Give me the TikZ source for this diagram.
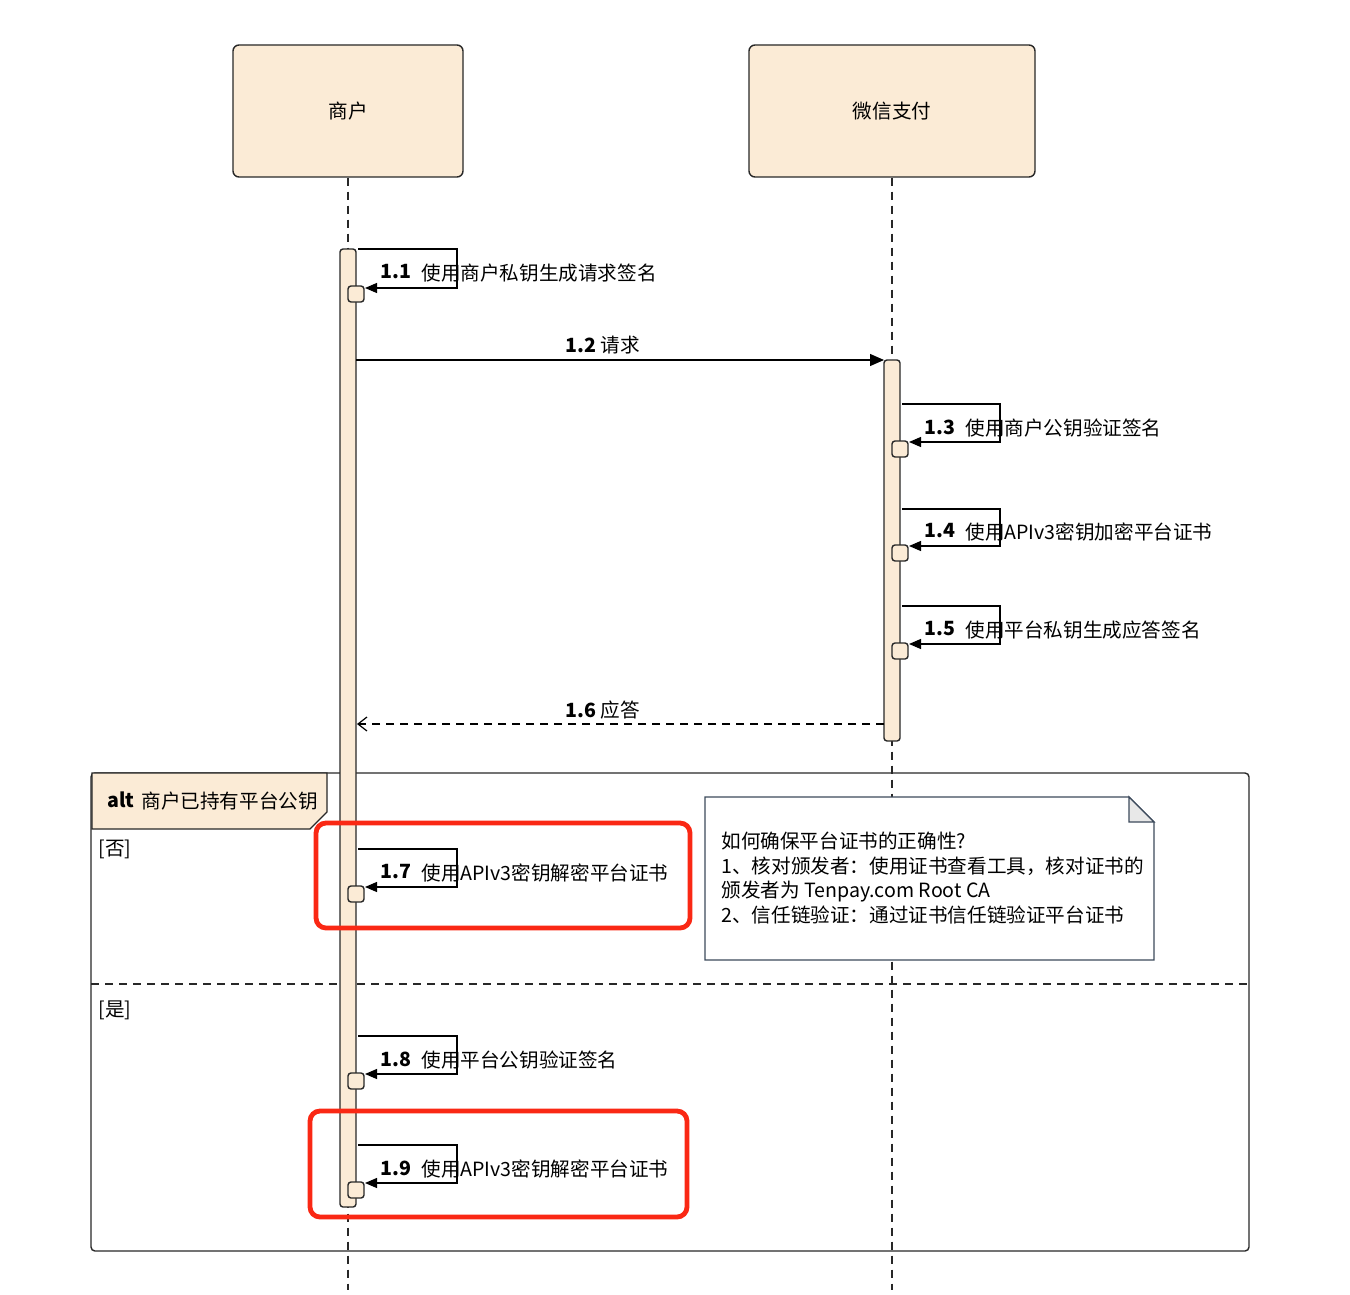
\documentclass[tikz,border=0pt]{standalone}
\usepackage{fontspec}
\setmainfont{Noto Sans CJK SC}
\usetikzlibrary{arrows.meta}
\definecolor{beige}{RGB}{251,235,214}
\definecolor{edge}{RGB}{40,40,40}
\definecolor{notec}{RGB}{60,74,92}
\definecolor{foldc}{RGB}{232,232,232}
\definecolor{redc}{RGB}{250,40,20}
\tikzset{
  actor/.style={draw=edge,fill=beige,line width=0.7pt,rounded corners=3pt,font=\fontsize{9.8}{12}\selectfont,inner sep=0pt},
  bar/.style={draw=edge,fill=beige,line width=0.7pt,rounded corners=1.5pt,minimum width=8pt,inner sep=0pt},
  sq/.style={draw=edge,fill=beige,line width=0.7pt,rounded corners=1.5pt,minimum width=8pt,minimum height=8pt,inner sep=0pt},
  life/.style={draw=edge,line width=0.6pt,dash pattern=on 4pt off 3pt},
  selfmsg/.style={draw=black,line width=0.6pt,-{Triangle[length=6pt,width=5pt]}},
  msg/.style={draw=black,line width=0.6pt,-{Triangle[length=7pt,width=6pt]}},
  ret/.style={draw=black,line width=0.6pt,dash pattern=on 4pt off 3pt,-{Straight Barb[length=4.5pt,width=7pt]}},
  num/.style={font=\fontsize{9.8}{12}\selectfont\bfseries,anchor=west,inner sep=0pt},
  lbl/.style={font=\fontsize{9.8}{12}\selectfont,anchor=west,inner sep=0pt},
  redbox/.style={draw=redc,line width=2.4pt,rounded corners=5pt},
}
\begin{document}
\begin{tikzpicture}[x=0.5pt,y=-0.5pt]
\useasboundingbox[fill=white] (0,0) rectangle (1350,1295);
% actors
\node[actor,minimum width=115pt,minimum height=66pt] (a1) at (348,111) {商户};
\node[actor,minimum width=143pt,minimum height=66pt] (a2) at (892,111) {微信支付};
\coordinate (l1end) at (348,1290);
\coordinate (l2end) at (892,1290);
\draw[life] (a1.south) -- (l1end);
\draw[life] (a2.south) -- (l2end);
% alt frame
\draw[edge,line width=0.7pt,rounded corners=2pt] (91,773) rectangle (1249,1251);
\draw[edge,line width=0.7pt,fill=beige] (92,773) -- (327,773) -- (327,812) -- (310,829) -- (92,829) -- cycle;
\node[num] (altk) at (107,800) {alt};
\node[lbl] (altt) at (141,801) {商户已持有平台公钥};
\node[lbl] (no) at (98,849) {[否]};
\node[lbl] (yes) at (98,1010) {[是]};
\coordinate (sepl) at (91,984);
\coordinate (sepr) at (1249,984);
\draw[life] (sepl) -- (sepr);
% activation bars
\node[bar,minimum height=479pt] (b1) at (348,728) {};
\node[bar,minimum height=190.5pt] (b2) at (892,550.5) {};
% 1.1
\node[sq] (s11) at (356,294) {};
\coordinate (m11a) at (358,249); \coordinate (m11b) at (457,288); \coordinate (m11e) at (365,288);
\draw[selfmsg] (m11a) -| (m11b) -- (m11e);
\node[num] (n11) at (380,272) {1.1};
\node[lbl] (t11) at (421,273) {使用商户私钥生成请求签名};
% 1.2
\coordinate (m12a) at (356,360);
\coordinate (m12e) at (884,360);
\draw[msg] (m12a) -- (m12e);
\node[font=\fontsize{9.8}{12}\selectfont,inner sep=0pt] (t12) at (603,345) {\textbf{1.2} 请求};
% 1.3
\node[sq] (s13) at (900,449) {};
\coordinate (m13a) at (902,404); \coordinate (m13b) at (1000,442); \coordinate (m13e) at (909,442);
\draw[selfmsg] (m13a) -| (m13b) -- (m13e);
\node[num] (n13) at (924,427) {1.3};
\node[lbl] (t13) at (965,428) {使用商户公钥验证签名};
% 1.4
\node[sq] (s14) at (900,553) {};
\coordinate (m14a) at (902,509); \coordinate (m14b) at (1000,546); \coordinate (m14e) at (909,546);
\draw[selfmsg] (m14a) -| (m14b) -- (m14e);
\node[num] (n14) at (924,531) {1.4};
\node[lbl] (t14) at (965,532) {使用APIv3密钥加密平台证书};
% 1.5
\node[sq] (s15) at (900,651) {};
\coordinate (m15a) at (902,606); \coordinate (m15b) at (1000,644); \coordinate (m15e) at (909,644);
\draw[selfmsg] (m15a) -| (m15b) -- (m15e);
\node[num] (n15) at (924,629) {1.5};
\node[lbl] (t15) at (965,630) {使用平台私钥生成应答签名};
% 1.6
\coordinate (m16a) at (884,724);
\coordinate (m16e) at (357,724);
\draw[ret] (m16a) -- (m16e);
\node[font=\fontsize{9.8}{12}\selectfont,inner sep=0pt] (t16) at (603,710) {\textbf{1.6} 应答};
% 1.7
\node[sq] (s17) at (356,894) {};
\coordinate (m17a) at (358,849); \coordinate (m17b) at (457,887); \coordinate (m17e) at (365,887);
\draw[selfmsg] (m17a) -| (m17b) -- (m17e);
\node[num] (n17) at (380,872) {1.7};
\node[lbl] (t17) at (421,873) {使用APIv3密钥解密平台证书};
% 1.8
\node[sq] (s18) at (356,1081) {};
\coordinate (m18a) at (358,1036); \coordinate (m18b) at (457,1074); \coordinate (m18e) at (365,1074);
\draw[selfmsg] (m18a) -| (m18b) -- (m18e);
\node[num] (n18) at (380,1059) {1.8};
\node[lbl] (t18) at (421,1060) {使用平台公钥验证签名};
% 1.9
\node[sq] (s19) at (356,1190) {};
\coordinate (m19a) at (358,1145); \coordinate (m19b) at (457,1183); \coordinate (m19e) at (365,1183);
\draw[selfmsg] (m19a) -| (m19b) -- (m19e);
\node[num] (n19) at (380,1168) {1.9};
\node[lbl] (t19) at (421,1169) {使用APIv3密钥解密平台证书};
% note
\draw[notec,line width=0.7pt,fill=white] (705,797) -- (1129,797) -- (1154,822) -- (1154,960) -- (705,960) -- cycle;
\draw[notec,line width=0.7pt,fill=foldc] (1129,797) -- (1129,822) -- (1154,822) -- cycle;
\node[font=\fontsize{9.8}{12.25}\selectfont,anchor=north west,align=left,inner sep=0pt] (note) at (721,832)
  {如何确保平台证书的正确性?\\1、核对颁发者：使用证书查看工具，核对证书的\\颁发者为 Tenpay.com Root CA\\2、信任链验证：通过证书信任链验证平台证书};
% red highlight boxes
\draw[redbox] (316,823) rectangle (690,928);
\draw[redbox] (310,1111) rectangle (687,1217);
\end{tikzpicture}
\end{document}
